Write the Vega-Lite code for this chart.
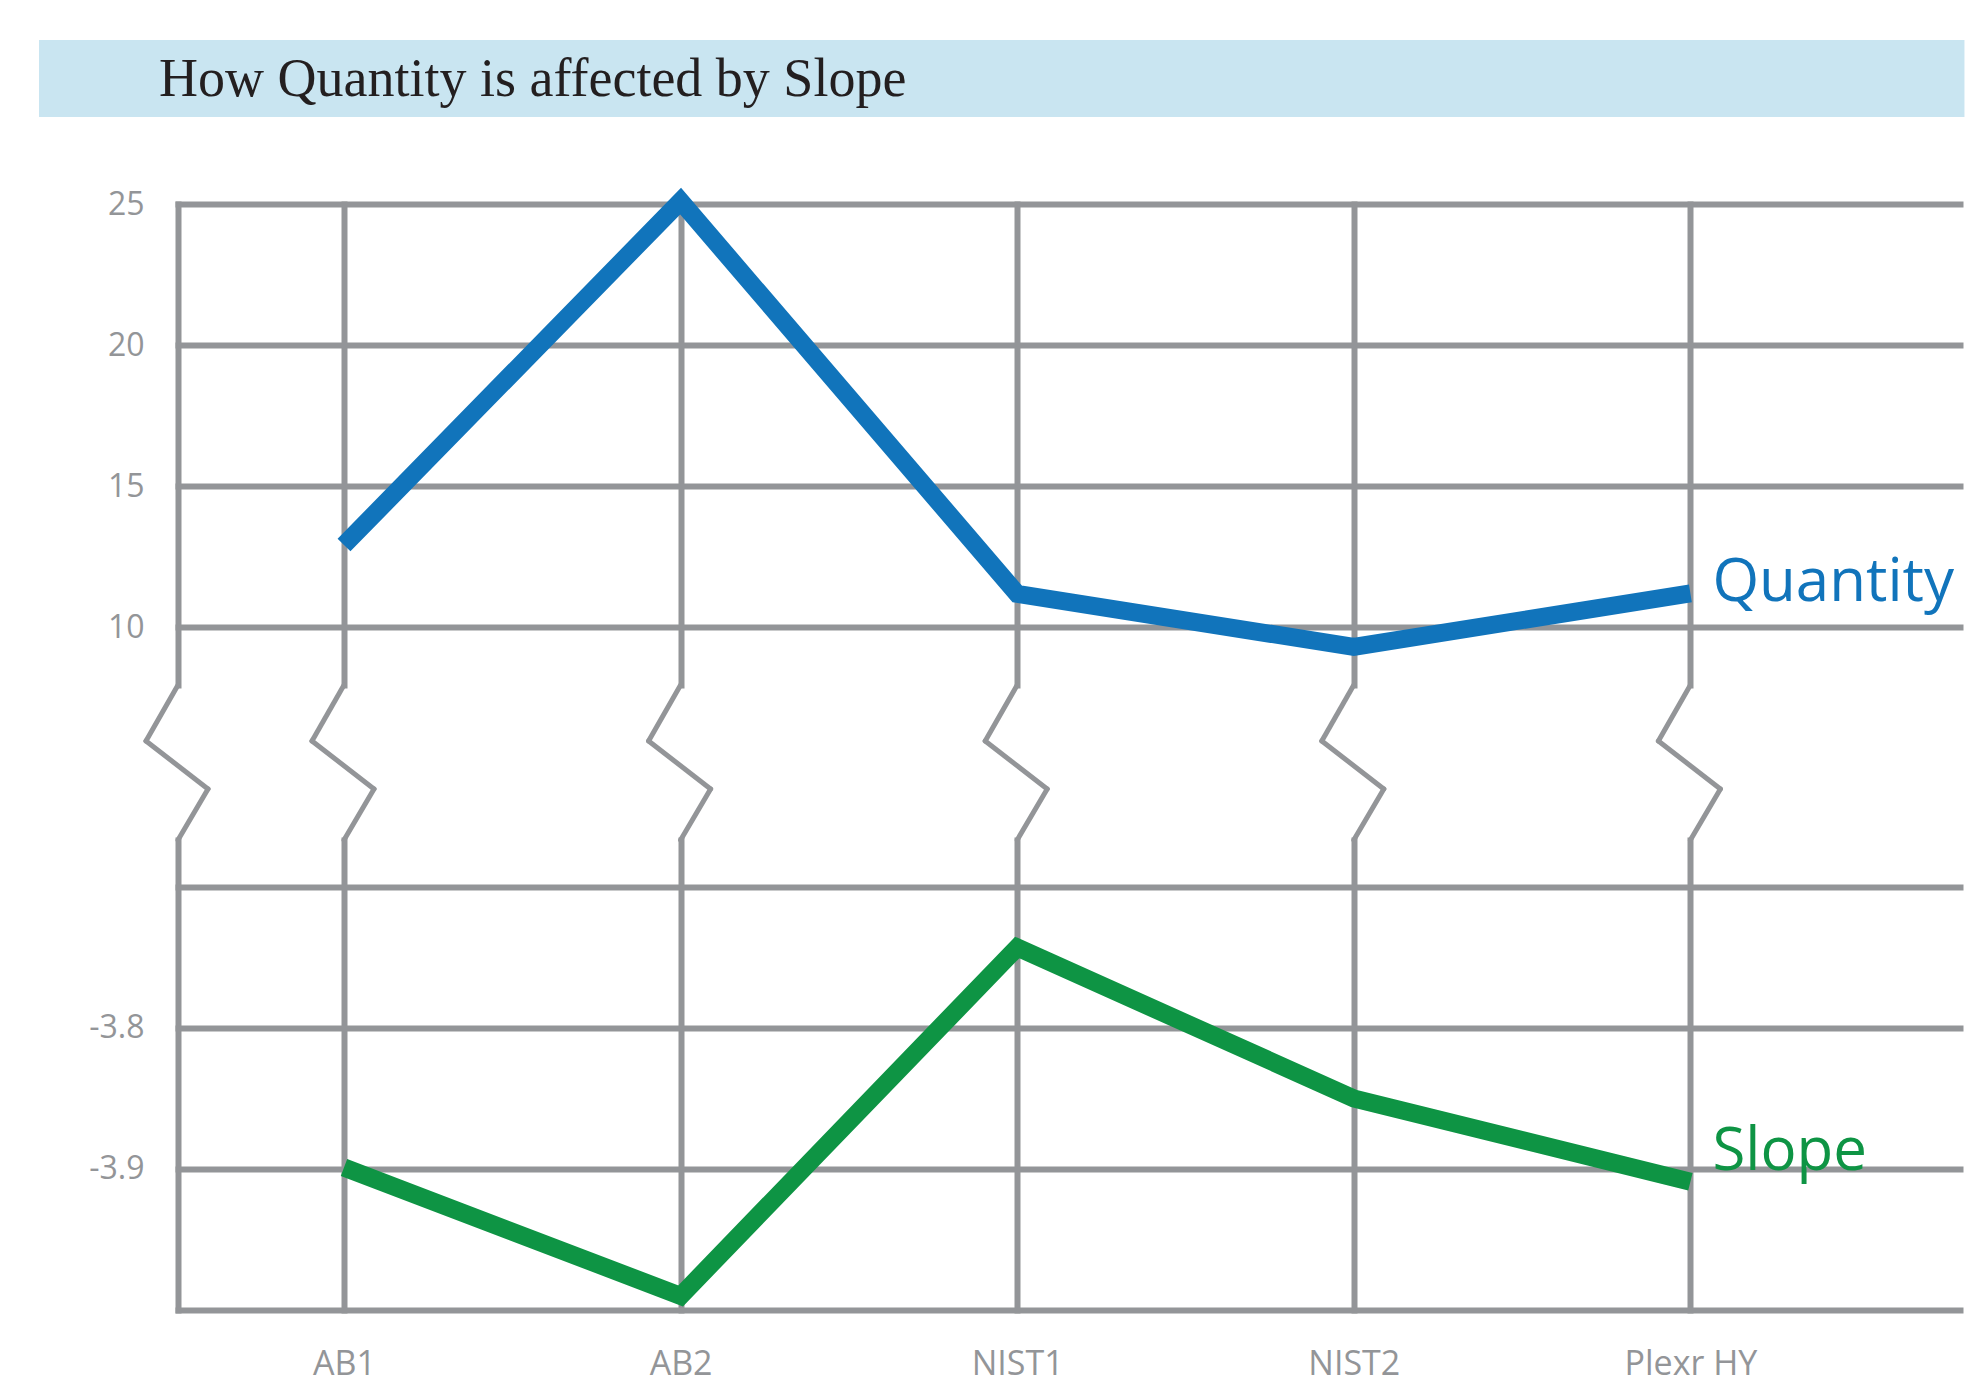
{
  "$schema": "https://vega.github.io/schema/vega-lite/v6.json",
  "padding": {"left": 39, "top": 40, "right": 0, "bottom": 8},
  "background": "white",
  "config": {
    "view": {"stroke": null},
    "axis": {
      "domainColor": "#939598",
      "domainWidth": 6,
      "domainCap": "square",
      "gridColor": "#939598",
      "gridWidth": 6,
      "gridOpacity": 1,
      "gridCap": "square",
      "ticks": false,
      "tickSize": 0,
      "labelColor": "#939598",
      "labelFont": "Open Sans",
      "labelOverlap": false,
      "labelBound": false
    }
  },
  "data": {
    "values": [
      {"Sample": "AB1", "Quantity": 12.91, "Slope": -3.899},
      {"Sample": "AB2", "Quantity": 25.1, "Slope": -3.99},
      {"Sample": "NIST1", "Quantity": 11.18, "Slope": -3.743},
      {"Sample": "NIST2", "Quantity": 9.3, "Slope": -3.85},
      {"Sample": "Plexr HY", "Quantity": 11.2, "Slope": -3.909}
    ]
  },
  "bounds": "flush",
  "spacing": 87,
  "vconcat": [
    {
      "data": {"values": [{"Title": "How Quantity is affected by Slope"}]},
      "width": 1782,
      "height": 77,
      "layer": [
        {
          "mark": {"type": "rect", "color": "#c9e5f1"},
          "encoding": {
            "x": {"datum": -0.078, "type": "quantitative", "scale": {"domain": [0, 1], "nice": false}, "axis": null},
            "x2": {"datum": 1.0025},
            "y": {"datum": 0, "type": "quantitative", "scale": {"domain": [0, 1], "nice": false}, "axis": null},
            "y2": {"datum": 1}
          }
        },
        {
          "mark": {"type": "text", "align": "left", "baseline": "alphabetic", "font": "Liberation Serif", "fontSize": 54, "color": "#231f20"},
          "encoding": {
            "x": {"datum": -0.01066, "type": "quantitative", "scale": {"domain": [0, 1], "nice": false}, "axis": null},
            "y": {"datum": 0.27, "type": "quantitative", "scale": {"domain": [0, 1], "nice": false}, "axis": null},
            "text": {"field": "Title"}
          }
        }
      ]
    },
    {
      "bounds": "flush",
      "spacing": 0,
      "vconcat": [
        {
          "width": 1782,
          "height": 481,
          "layer": [
            {
              "mark": {"type": "line", "color": "#1174bb", "strokeWidth": 18, "strokeJoin": "miter", "strokeCap": "butt"},
              "encoding": {
                "x": {
                  "field": "Sample", "type": "nominal", "sort": null,
                  "scale": {"type": "point", "padding": 0.64706, "align": 0.38108, "round": false},
                  "axis": {"title": null, "grid": true, "labels": false, "domain": false}
                },
                "y": {
                  "field": "Quantity", "type": "quantitative",
                  "scale": {"domain": [7.95, 25], "nice": false, "zero": false},
                  "axis": {"title": null, "values": [10, 15, 20, 25], "grid": true, "domain": true, "labelFontSize": 32, "labelPadding": 34, "labelBaseline": "middle"}
                }
              }
            },
            {
              "transform": [{"filter": "datum.Sample === 'Plexr HY'"}],
              "mark": {"type": "text", "align": "left", "baseline": "alphabetic", "dx": 22, "dy": 8, "font": "Open Sans", "fontSize": 60, "color": "#1174bb"},
              "encoding": {
                "x": {"field": "Sample", "type": "nominal", "sort": null},
                "y": {"field": "Quantity", "type": "quantitative"},
                "text": {"value": "Quantity"}
              }
            }
          ]
        },
        {
          "width": 1782,
          "height": 155,
          "layer": [
            {
              "mark": {"type": "rule", "color": "#939598", "strokeWidth": 5, "strokeCap": "round", "xOffset": 0, "x2Offset": -32},
              "encoding": {
                "x": {"field": "Sample", "type": "nominal", "sort": null, "scale": {"type": "point", "padding": 0.64706, "align": 0.38108, "round": false}, "axis": null},
                "x2": {"field": "Sample"},
                "y": {"datum": 1, "type": "quantitative", "scale": {"domain": [0, 1], "nice": false}, "axis": null},
                "y2": {"datum": 0.639}
              }
            },
            {
              "mark": {"type": "rule", "color": "#939598", "strokeWidth": 5, "strokeCap": "round", "xOffset": -32, "x2Offset": 30},
              "encoding": {
                "x": {"field": "Sample", "type": "nominal", "sort": null},
                "x2": {"field": "Sample"},
                "y": {"datum": 0.639, "type": "quantitative"},
                "y2": {"datum": 0.329}
              }
            },
            {
              "mark": {"type": "rule", "color": "#939598", "strokeWidth": 5, "strokeCap": "round", "xOffset": 30, "x2Offset": 0},
              "encoding": {
                "x": {"field": "Sample", "type": "nominal", "sort": null},
                "x2": {"field": "Sample"},
                "y": {"datum": 0.329, "type": "quantitative"},
                "y2": {"datum": 0}
              }
            },
            {
              "data": {"values": [{"Edge": "axis"}]},
              "mark": {"type": "rule", "color": "#939598", "strokeWidth": 5, "strokeCap": "round", "xOffset": 0, "x2Offset": -32},
              "encoding": {
                "x": {"value": 0},
                "x2": {"value": 0},
                "y": {"datum": 1, "type": "quantitative"},
                "y2": {"datum": 0.639}
              }
            },
            {
              "data": {"values": [{"Edge": "axis"}]},
              "mark": {"type": "rule", "color": "#939598", "strokeWidth": 5, "strokeCap": "round", "xOffset": -32, "x2Offset": 30},
              "encoding": {
                "x": {"value": 0},
                "x2": {"value": 0},
                "y": {"datum": 0.639, "type": "quantitative"},
                "y2": {"datum": 0.329}
              }
            },
            {
              "data": {"values": [{"Edge": "axis"}]},
              "mark": {"type": "rule", "color": "#939598", "strokeWidth": 5, "strokeCap": "round", "xOffset": 30, "x2Offset": 0},
              "encoding": {
                "x": {"value": 0},
                "x2": {"value": 0},
                "y": {"datum": 0.329, "type": "quantitative"},
                "y2": {"datum": 0}
              }
            }
          ]
        },
        {
          "width": 1782,
          "height": 470,
          "layer": [
            {
              "mark": {"type": "line", "color": "#0e9444", "strokeWidth": 18, "strokeJoin": "miter", "strokeCap": "butt"},
              "encoding": {
                "x": {
                  "field": "Sample", "type": "nominal", "sort": null,
                  "scale": {"type": "point", "padding": 0.64706, "align": 0.38108, "round": false},
                  "axis": {"title": null, "grid": true, "labels": true, "domain": true, "labelAngle": 0, "labelFontSize": 34, "labelPadding": 64, "labelBaseline": "alphabetic"}
                },
                "y": {
                  "field": "Slope", "type": "quantitative",
                  "scale": {"domain": [-4.0, -3.6668], "nice": false, "zero": false},
                  "axis": {"title": null, "values": [-3.7, -3.8, -3.9], "grid": true, "domain": true, "labelFontSize": 32, "labelPadding": 34, "labelBaseline": "middle", "labelExpr": "datum.value > -3.75 ? '' : '-' + format(abs(datum.value), '.1f')"}
                }
              }
            },
            {
              "transform": [{"filter": "datum.Sample === 'Plexr HY'"}],
              "mark": {"type": "text", "align": "left", "baseline": "alphabetic", "dx": 22, "dy": -12, "font": "Open Sans", "fontSize": 60, "color": "#0e9444"},
              "encoding": {
                "x": {"field": "Sample", "type": "nominal", "sort": null},
                "y": {"field": "Slope", "type": "quantitative"},
                "text": {"value": "Slope"}
              }
            }
          ]
        }
      ]
    }
  ]
}
